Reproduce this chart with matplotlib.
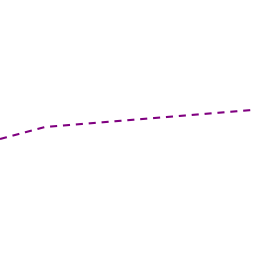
import matplotlib
matplotlib.use("Agg")
import matplotlib.pyplot as plt

xValues = [0, 45, 252]
yValues = [117, 129, 146]


def main():
    fig = plt.figure(figsize=(2.56, 2.56), dpi=100)
    ax = fig.add_axes([0, 0, 1, 1])
    ax.plot(xValues, yValues, color="#800080", linewidth=1.5, linestyle=(0, (3.4, 2.8)))
    ax.set_xlim(0, 256)
    ax.set_ylim(0, 256)
    ax.axis("off")
    fig.savefig("out.png", dpi=100)


if __name__ == "__main__":
    main()
